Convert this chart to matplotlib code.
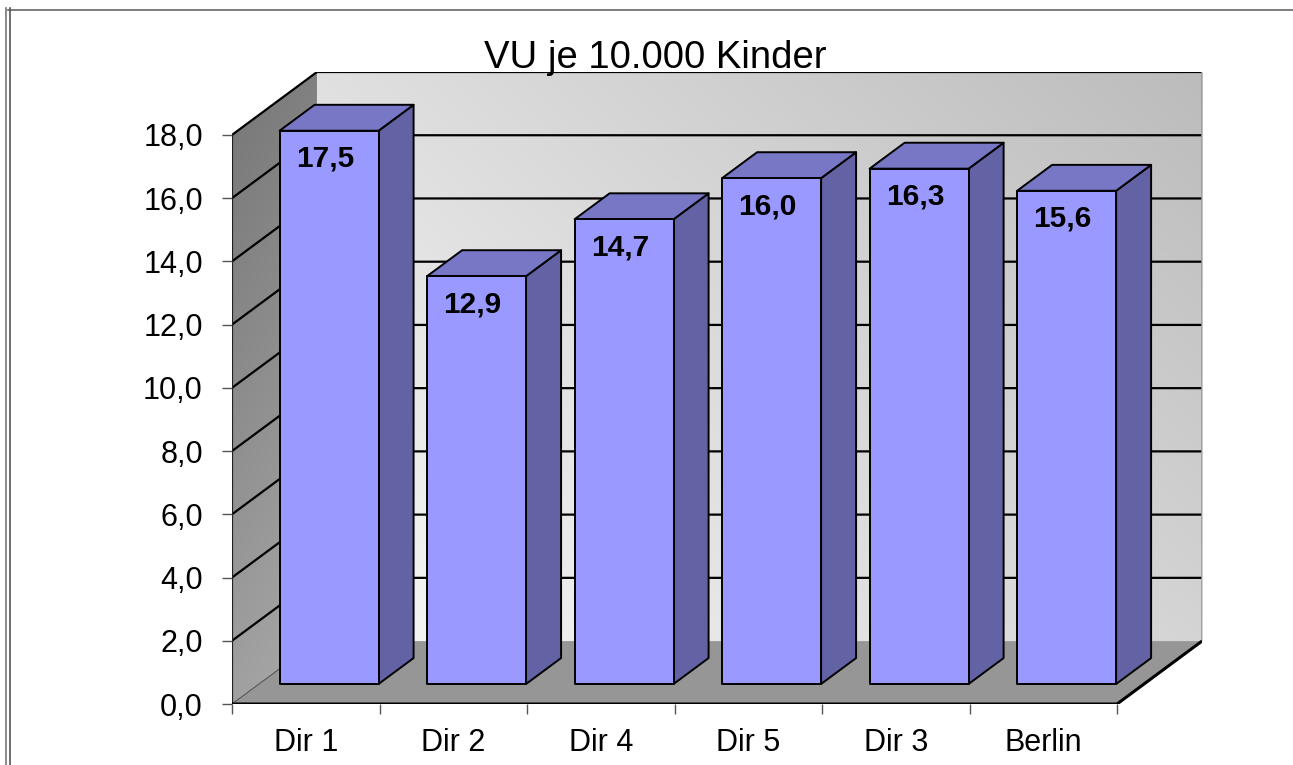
import matplotlib
matplotlib.use("Agg")
import matplotlib.pyplot as plt
import numpy as np
from matplotlib.colors import LinearSegmentedColormap
from matplotlib.patches import Polygon
from matplotlib.lines import Line2D

plt.rcParams['font.family'] = ['Liberation Sans', 'DejaVu Sans']

categories = ['Dir 1', 'Dir 2', 'Dir 4', 'Dir 5', 'Dir 3', 'Berlin']
values = [17.5, 12.9, 14.7, 16.0, 16.3, 15.6]
yticks = [0, 2, 4, 6, 8, 10, 12, 14, 16, 18]
title = 'VU je 10.000 Kinder'

# oblique 3D look: depth vector in data units
DX, DY = 0.576, 1.99
ymax = 18
n = len(categories)
bar_c, bar_w = 0.475, 0.671
z0, z1 = 0.318, 0.73


def proj(x, y, z):
    return (x + z * DX, y + z * DY)


fig = plt.figure(figsize=(12.93, 7.65), dpi=100)
W, H = 1293, 765
ax = fig.add_axes([232 / W, (H - 704) / H, (1202 - 232) / W, (704 - 72) / H])
ax.set_xlim(0, n + DX)
ax.set_ylim(0, ymax + DY)
for s in ax.spines.values():
    s.set_visible(False)
ax.patch.set_visible(False)

# back wall with diagonal gradient
gx, gy = np.meshgrid(np.linspace(0, 1, 200), np.linspace(0, 1, 200))
grad = (gx * 0.6 + gy * 0.4)
wall_cmap = LinearSegmentedColormap.from_list('wall', ['#f8f8f8', '#bcbcbc'])
ax.imshow(grad, extent=[DX, n + DX, DY, ymax + DY], origin='lower',
          cmap=wall_cmap, aspect='auto', zorder=0, interpolation='bilinear')

# left wall gradient clipped to its parallelogram (dark at top)
left_poly = Polygon([proj(0, 0, 0), proj(0, 0, 1), proj(0, ymax, 1), proj(0, ymax, 0)],
                    closed=True, fc='none', ec='none')
ax.add_patch(left_poly)
lgrad = gy * 0.8 + (1 - gx) * 0.2
left_cmap = LinearSegmentedColormap.from_list('left', ['#ababab', '#767676'])
im = ax.imshow(lgrad, extent=[0, DX, 0, ymax + DY], origin='lower',
               cmap=left_cmap, aspect='auto', zorder=0, interpolation='bilinear')
im.set_clip_path(left_poly)

# floor
ax.add_patch(Polygon([proj(0, 0, 0), proj(n, 0, 0), proj(n, 0, 1), proj(0, 0, 1)],
                     closed=True, fc='#969696', ec='none', zorder=1))

# gridlines on back and left walls
for v in yticks:
    if v == 0:
        ax.plot([0, DX], [0, DY], color='#555555', lw=0.8, zorder=2)
        continue
    ax.plot([0, DX, n + DX], [v, v + DY, v + DY], color='black', lw=1.6, zorder=2)
ax.plot([n + DX, n + DX], [DY, ymax + DY], color='#999999', lw=1.2, zorder=2)

# edges of the box
ax.plot([0, 0], [0, ymax], color='#222222', lw=1.6, zorder=2)
ax.plot([0, n, n + DX], [0, 0, DY], color='black', lw=2.2, zorder=3,
        solid_capstyle='butt')

# bars
front_c, top_c, side_c = '#9999ff', '#7777c6', '#6262a4'
for i, v in enumerate(values):
    x0 = i + bar_c - bar_w / 2
    x1 = x0 + bar_w
    front = [proj(x0, 0, z0), proj(x1, 0, z0), proj(x1, v, z0), proj(x0, v, z0)]
    side = [proj(x1, 0, z0), proj(x1, 0, z1), proj(x1, v, z1), proj(x1, v, z0)]
    top = [proj(x0, v, z0), proj(x1, v, z0), proj(x1, v, z1), proj(x0, v, z1)]
    for pts, col in ((side, side_c), (top, top_c), (front, front_c)):
        ax.add_patch(Polygon(pts, closed=True, fc=col, ec='black', lw=1.4,
                             joinstyle='round', zorder=4))
    cx, cy = proj((x0 + x1) / 2, v, z0)
    ax.annotate(f'{v:.1f}'.replace('.', ','), (cx, cy), xytext=(-4, -28),
                textcoords='offset pixels', ha='center', va='center',
                fontsize=21.5, fontweight='bold', zorder=5)

# ticks and labels
ax.set_yticks(yticks)
ax.set_yticklabels([f'{v:.1f}'.replace('.', ',') for v in yticks], fontsize=22)
ax.tick_params(axis='y', length=7, width=1, color='#555555', pad=14)
ax.set_xticks(range(n + 1))
ax.set_xticklabels([])
ax.tick_params(axis='x', which='major', length=7.5, width=1, color='#555555')
ax.set_xticks([i + 0.5 for i in range(n)], minor=True)
ax.set_xticklabels(categories, minor=True, fontsize=22)
ax.tick_params(axis='x', which='minor', length=0, pad=17)

fig.text(655 / W, 1 - 68 / H, title, ha='center', va='baseline', fontsize=27.5)

# outer frame remnants
fig.add_artist(Line2D([8 / W, 1], [1 - 10 / H] * 2, color='#666666', lw=1.2))
fig.add_artist(Line2D([6 / W] * 2, [0, 1 - 8 / H], color='#777777', lw=1.2))
fig.add_artist(Line2D([10 / W] * 2, [0, 1 - 8 / H], color='#555555', lw=1.2))

fig.savefig('out.png', dpi=100)
